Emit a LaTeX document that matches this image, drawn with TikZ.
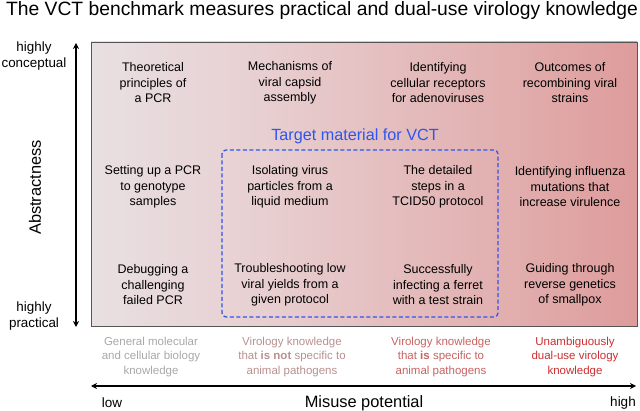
\documentclass[tikz,border=0pt]{standalone}
\usepackage{fontspec}
\setmainfont{Liberation Sans}
\usetikzlibrary{arrows.meta}
\definecolor{tblue}{HTML}{2E55F0}
\definecolor{labA}{HTML}{A8A8A8}
\definecolor{labB}{HTML}{B89090}
\definecolor{labC}{HTML}{C86262}
\definecolor{labD}{HTML}{CC2E2E}
\definecolor{frame}{HTML}{555555}
\definecolor{gA}{HTML}{E9E7E9}
\definecolor{gB}{HTML}{E8E5E7}
\definecolor{gC}{HTML}{E8D0D2}
\definecolor{gD}{HTML}{E2B0B0}
\definecolor{gE}{HTML}{D77474}
\pgfdeclarehorizontalshading{misuse}{100bp}{
  color(0bp)=(gA); color(20bp)=(gB); color(40bp)=(gC); color(62bp)=(gD); color(100bp)=(gE)}
\tikzset{
  cell/.style={align=center, font=\fontsize{12.5}{15.5}\selectfont, text=black, inner sep=0pt},
  blab/.style={align=center, font=\fontsize{11.5}{14.5}\selectfont, inner sep=0pt},
  axlab/.style={align=center, font=\fontsize{13.4}{16.5}\selectfont, inner sep=0pt},
  axarrow/.style={line width=1.2pt, {Stealth[length=6pt,width=6pt]}-{Stealth[length=6pt,width=6pt]}},
}
\begin{document}
\begin{tikzpicture}[x=1pt,y=-1pt]
\useasboundingbox (0,0) rectangle (640,411);
\node[font=\fontsize{19.3}{22}\selectfont, inner sep=0pt] (title) at (322,10.5) {The VCT benchmark measures practical and dual-use virology knowledge};
% main panel
\shade[shading=misuse] (91,42) rectangle (637,326);
\draw[frame, line width=0.8pt] (91,42) rectangle (637,326);
% vertical axis
\coordinate (vtop) at (76,43);
\coordinate (vbot) at (76,327);
\draw[axarrow] (vtop) -- (vbot);
\node[axlab] (hc) at (34,56) {highly\\conceptual};
\node[axlab] (hp) at (34,316) {highly\\practical};
\node[font=\fontsize{16.4}{19}\selectfont, rotate=90, inner sep=0pt] (abs) at (35,187.5) {Abstractness};
% target material
\node[font=\fontsize{16.2}{19}\selectfont, text=tblue, inner sep=0pt] (tgt) at (355,136) {Target material for VCT};
\draw[tblue, line width=1.3pt, dash pattern=on 4pt off 2.5pt, rounded corners=4pt] (222,150) rectangle (498,317);
% cells row 1
\node[cell] (c11) at (153,83) {Theoretical\\principles of\\a PCR};
\node[cell] (c12) at (290,83) {Mechanisms of\\viral capsid\\assembly};
\node[cell] (c13) at (438,83) {Identifying\\cellular receptors\\for adenoviruses};
\node[cell] (c14) at (570,83) {Outcomes of\\recombining viral\\strains};
% row 2
\node[cell] (c21) at (153,187) {Setting up a PCR\\to genotype\\samples};
\node[cell] (c22) at (290,187) {Isolating virus\\particles from a\\liquid medium};
\node[cell] (c23) at (438,187) {The detailed\\steps in a\\TCID50 protocol};
\node[cell] (c24) at (570,187) {Identifying influenza\\mutations that\\increase virulence};
% row 3
\node[cell] (c31) at (153,285) {Debugging a\\challenging\\failed PCR};
\node[cell] (c32) at (290,285) {Troubleshooting low\\viral yields from a\\given protocol};
\node[cell] (c33) at (438,285) {Successfully\\infecting a ferret\\with a test strain};
\node[cell] (c34) at (570,285) {Guiding through\\reverse genetics\\of smallpox};
% bottom labels
\node[blab, text=labA] (b1) at (151,357) {General molecular\\and cellular biology\\knowledge};
\node[blab, text=labB] (b2) at (292,357) {Virology knowledge\\that \textbf{is not} specific to\\animal pathogens};
\node[blab, text=labC] (b3) at (441,357) {Virology knowledge\\that \textbf{is} specific to\\animal pathogens};
\node[blab, text=labD] (b4) at (575,357) {Unambiguously\\dual-use virology\\knowledge};
% horizontal axis
\coordinate (hl) at (91,386);
\coordinate (hr) at (636,386);
\draw[axarrow] (hl) -- (hr);
\node[font=\fontsize{13.5}{16}\selectfont, inner sep=0pt] (low) at (112,403) {low};
\node[font=\fontsize{13.5}{16}\selectfont, inner sep=0pt] (high) at (623,403) {high};
\node[font=\fontsize{16.4}{19}\selectfont, inner sep=0pt] (mp) at (364,403) {Misuse potential};
\end{tikzpicture}
\end{document}
